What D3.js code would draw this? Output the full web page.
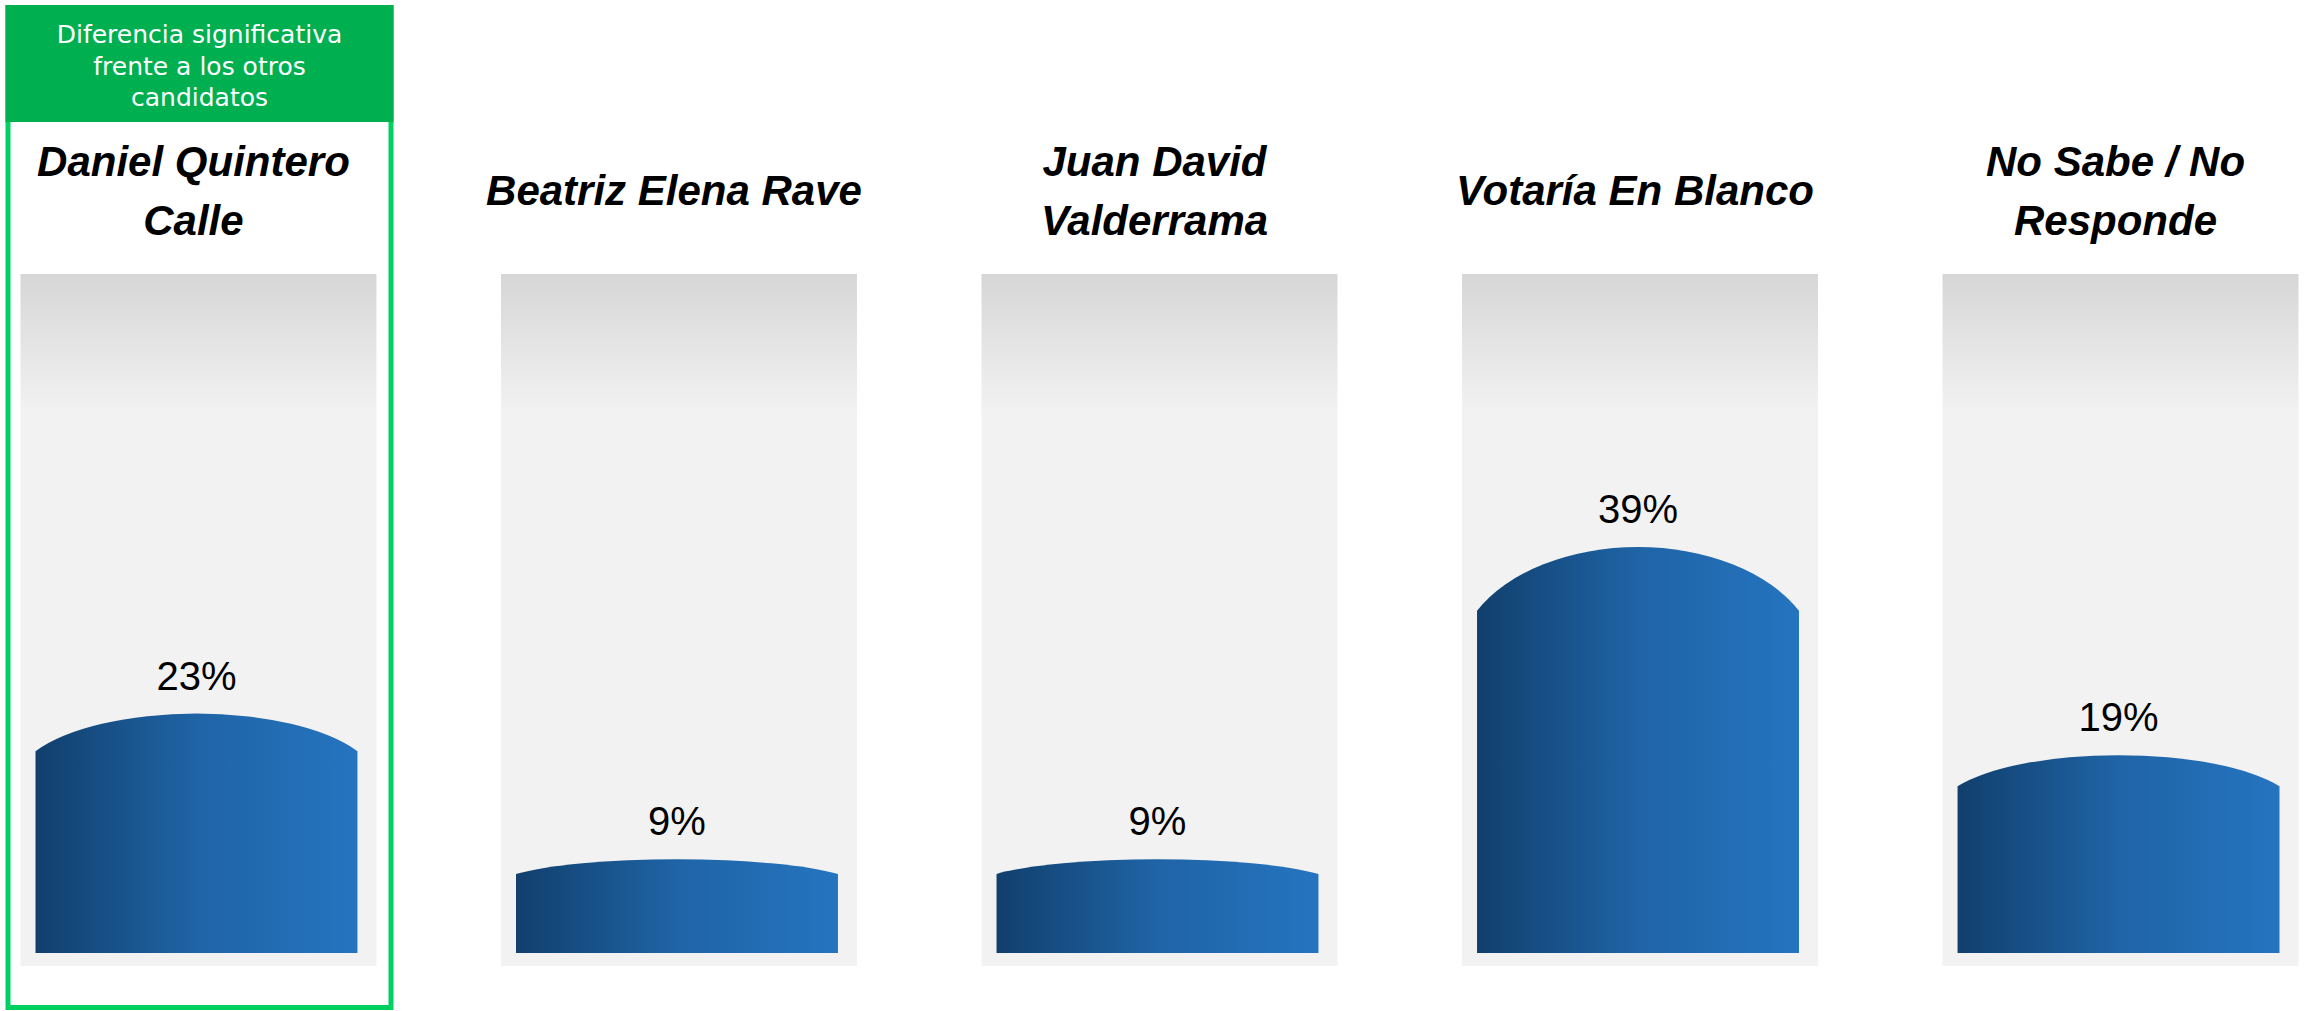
<!DOCTYPE html>
<html>
<head>
<meta charset="utf-8">
<script src="https://cdn.jsdelivr.net/npm/d3@7"></script>
<style>
    body { margin: 0; background: #fff; }
    svg { display: block; }
    .title { font-family: "Liberation Sans", Arial, sans-serif; font-weight: bold; font-style: italic; font-size: 42px; fill: #000; }
    .value { font-family: "Liberation Sans", Arial, sans-serif; font-size: 40px; fill: #000; }
    .note { font-family: "DejaVu Sans", sans-serif; font-size: 25px; fill: #fff; }
</style>
</head>
<body>
<div id="chart"></div>
<script>
"use strict";

// data
const candidates = ["Daniel Quintero Calle", "Beatriz Elena Rave", "Juan David Valderrama", "Votaría En Blanco", "No Sabe / No Responde"];
const titleLines = [["Daniel Quintero", "Calle"], ["Beatriz Elena Rave"], ["Juan David", "Valderrama"], ["Votaría En Blanco"], ["No Sabe / No", "Responde"]];
const values = [23, 9, 9, 39, 19];
const highlighted = "Daniel Quintero Calle";
const noteLines = ["Diferencia significativa", "frente a los otros", "candidatos"];

const width = 2305, height = 1011;
const baseY = 953;

const svg = d3.select("#chart").append("svg")
    .attr("width", width)
    .attr("height", height);

const defs = svg.append("defs");

// grey panel gradient (dark at top)
const panelGrad = defs.append("linearGradient")
    .attr("id", "panelGrad")
    .attr("x1", "0%").attr("y1", "0%")
    .attr("x2", "0%").attr("y2", "100%");
panelGrad.append("stop").attr("offset", "0%").attr("stop-color", "#d6d6d6");
panelGrad.append("stop").attr("offset", "20%").attr("stop-color", "#f2f2f2");
panelGrad.append("stop").attr("offset", "100%").attr("stop-color", "#f2f2f2");

// blue bar gradient (left to right)
const barGrad = defs.append("linearGradient")
    .attr("id", "barGrad")
    .attr("x1", "0%").attr("y1", "0%")
    .attr("x2", "100%").attr("y2", "0%");
barGrad.append("stop").attr("offset", "0%").attr("stop-color", "#113f6d");
barGrad.append("stop").attr("offset", "50%").attr("stop-color", "#1f64a6");
barGrad.append("stop").attr("offset", "100%").attr("stop-color", "#2574c0");

const x = d3.scaleBand()
    .domain(candidates)
    .range([35.5, 2279.5])
    .paddingInner(0.33);

const y = d3.scaleLinear()
    .domain([0, 100])
    .range([baseY, baseY - 1041]);

const bw = x.bandwidth();

// highlight box around the first candidate
const hx = x(highlighted);
svg.append("rect")
    .attr("x", hx - 27.5)
    .attr("y", 7.5)
    .attr("width", 383)
    .attr("height", 1000)
    .attr("fill", "none")
    .attr("stroke", "#00d060")
    .attr("stroke-width", 5);
svg.append("rect")
    .attr("x", hx - 30)
    .attr("y", 5)
    .attr("width", 388)
    .attr("height", 117)
    .attr("fill", "#00b050");
svg.append("text")
    .attr("class", "note")
    .attr("text-anchor", "middle")
    .selectAll("tspan")
    .data(noteLines)
    .enter()
    .append("tspan")
    .attr("x", hx + 164)
    .attr("y", (d, i) => 43 + i * 31.5)
    .text(d => d);

const groups = svg.selectAll("g.cand")
    .data(candidates.map((c, i) => ({ name: c, lines: titleLines[i], value: values[i] })))
    .enter()
    .append("g")
    .attr("class", "cand");

// background panels
groups.append("rect")
    .attr("x", d => x(d.name) - 15)
    .attr("y", 274)
    .attr("width", bw + 34)
    .attr("height", 692)
    .attr("fill", "url(#panelGrad)");

// bars with a rounded cap
function barPath(d) {
    const x0 = x(d.name), x1 = x0 + bw;
    const top = y(d.value);
    const h = baseY - top;
    const cap = h * 0.157;
    const shoulder = top + cap;
    const R = bw * 0.56;
    const S = cap / (1 - Math.sqrt(1 - Math.pow(bw / 2 / R, 2)));
    return "M" + x0 + "," + baseY + "V" + shoulder +
        "A" + R + "," + S + " 0 0 1 " + x1 + "," + shoulder +
        "V" + baseY + "Z";
}
groups.append("path")
    .attr("d", barPath)
    .attr("fill", "url(#barGrad)");

// value labels
groups.append("text")
    .attr("class", "value")
    .attr("text-anchor", "middle")
    .attr("x", d => x(d.name) + bw / 2)
    .attr("y", d => y(d.value) - 24)
    .text(d => d.value + "%");

// titles, one or two lines
groups.append("text")
    .attr("class", "title")
    .attr("text-anchor", "middle")
    .each(function(d) {
        const t = d3.select(this);
        const y0 = d.lines.length == 1 ? 205 : 176;
        d.lines.forEach((line, i) => {
            t.append("tspan")
                .attr("x", x(d.name) + bw / 2 - 3)
                .attr("y", y0 + i * 59)
                .text(line);
        });
    });
</script>
</body>
</html>
